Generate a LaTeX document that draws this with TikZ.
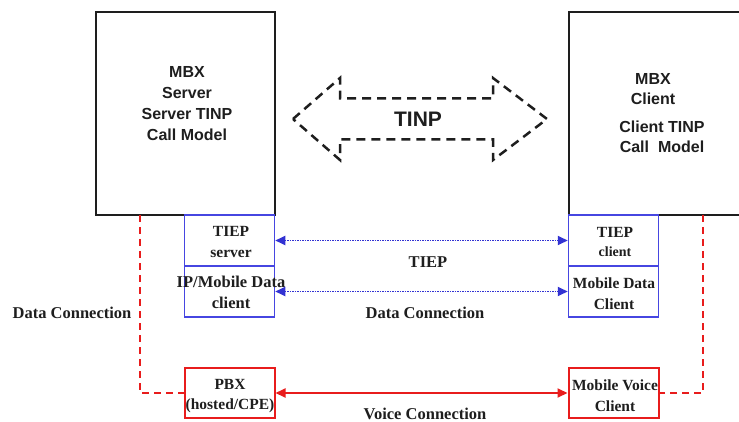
\documentclass[tikz,border=0pt]{standalone}
\usepackage{fontspec}
\setmainfont{Liberation Serif}
\setsansfont{Liberation Sans}
\usetikzlibrary{arrows.meta}
\definecolor{ink}{RGB}{30,30,30}
\definecolor{bluebox}{RGB}{70,70,225}
\definecolor{bluelink}{RGB}{50,50,210}
\definecolor{redlink}{RGB}{232,28,28}

\begin{document}
\begin{tikzpicture}[x=1pt,y=-1pt,
  bigbox/.style={draw=ink, line width=2pt, inner sep=0pt, minimum height=203pt},
  bluebox/.style={draw=bluebox, line width=1.5pt, inner sep=0pt, minimum width=90pt, minimum height=51pt},
  redbox/.style={draw=redlink, line width=2pt, inner sep=0pt, minimum width=90pt, minimum height=50pt},
  sanstext/.style={font=\sffamily\bfseries\fontsize{16}{21}\selectfont, text=ink, align=center, inner sep=0pt},
  boxtext/.style={font=\bfseries\fontsize{15.5}{20.5}\selectfont, text=ink, align=center, inner sep=0pt},
  linklabel/.style={font=\bfseries\fontsize{16.5}{20}\selectfont, text=ink, inner sep=0pt},
  datalink/.style={bluelink, line width=1.8pt, dash pattern=on 1.4pt off 1.1pt,
    {Triangle[length=10pt,width=9pt]}-{Triangle[length=10pt,width=9pt]}},
  voicelink/.style={redlink, line width=2pt,
    {Triangle[length=10pt,width=9pt]}-{Triangle[length=10pt,width=9pt]}},
  backhaul/.style={redlink, line width=2pt, dash pattern=on 7pt off 5pt},
  tinparrow/.style={draw=ink, line width=2.5pt, dash pattern=on 9pt off 6pt, line join=miter}
]
\useasboundingbox (0,0) rectangle (739,422);
\clip (0,0) rectangle (739,422);

% MBX server and client blocks
\node[bigbox, minimum width=179pt] (srv) at (185.5,113.5) {};
\node[bigbox, minimum width=191pt] (cli) at (664.5,113.5) {};
\node[sanstext] (srvtxt) at (187,104) {MBX\\Server\\Server TINP\\Call Model};
\node[sanstext, font=\sffamily\bfseries\fontsize{16}{20}\selectfont] (clitxtA) at (653,89) {MBX\\Client};
\node[sanstext, font=\sffamily\bfseries\fontsize{16}{20}\selectfont] (clitxtB) at (662,137) {Client TINP\\Call\ \ Model};

% TINP signalling arrow
\draw[tinparrow] (293,119) -- (340,78) -- (340,98.5) -- (493,98.5) -- (493,78)
  -- (547,119) -- (493,160) -- (493,139.5) -- (340,139.5) -- (340,160) -- cycle;
\node[font=\sffamily\bfseries\fontsize{21}{24}\selectfont, text=ink, inner sep=0pt] (tinp) at (418,119) {TINP};

% Server side sub-blocks
\node[bluebox] (tiepS) at (229.5,240.5) {};
\node[bluebox] (dataS) at (229.5,291.5) {};
\node[redbox] (pbx) at (229.5,393) {};
\node[boxtext] (tiepStxt) at (231,242) {TIEP\\server};
\node[boxtext, font=\bfseries\fontsize{16.5}{21}\selectfont] (dataStxt) at (231,292.5) {IP/Mobile Data\\client};
\node[boxtext] (pbxtxt) at (230,396) {PBX\\(hosted/CPE)};

% Client side sub-blocks
\node[bluebox] (tiepC) at (613.5,240.5) {};
\node[bluebox] (dataC) at (613.5,291.5) {};
\node[redbox] (mvc) at (613.5,393) {};
\node[boxtext] (tiepCtxt) at (615,242) {TIEP\\[-2pt]{\fontsize{14}{16}\selectfont client}};
\node[boxtext] (dataCtxt) at (614,293.5) {Mobile Data\\Client};
\node[boxtext] (mvctxt) at (615,395.5) {Mobile Voice\\Client};

% Links between the two sides
\draw[datalink] (tiepS.east) -- (tiepC.west);
\draw[datalink] (dataS.east) -- (dataC.west);
\draw[voicelink] (pbx.east) -- (mvc.west);
\node[linklabel] (tieplbl) at (428,262) {TIEP};
\node[linklabel] (datalbl) at (425,313) {Data Connection};
\node[linklabel] (voicelbl) at (425,414) {Voice Connection};

% Data connections down to the voice endpoints
\coordinate (dropL) at (140,215);
\coordinate (dropR) at (703,215);
\draw[backhaul] (dropL) |- (pbx.west);
\draw[backhaul] (dropR) |- (mvc.east);
\node[linklabel] (datalblL) at (72,313) {Data Connection};
\end{tikzpicture}
\end{document}
